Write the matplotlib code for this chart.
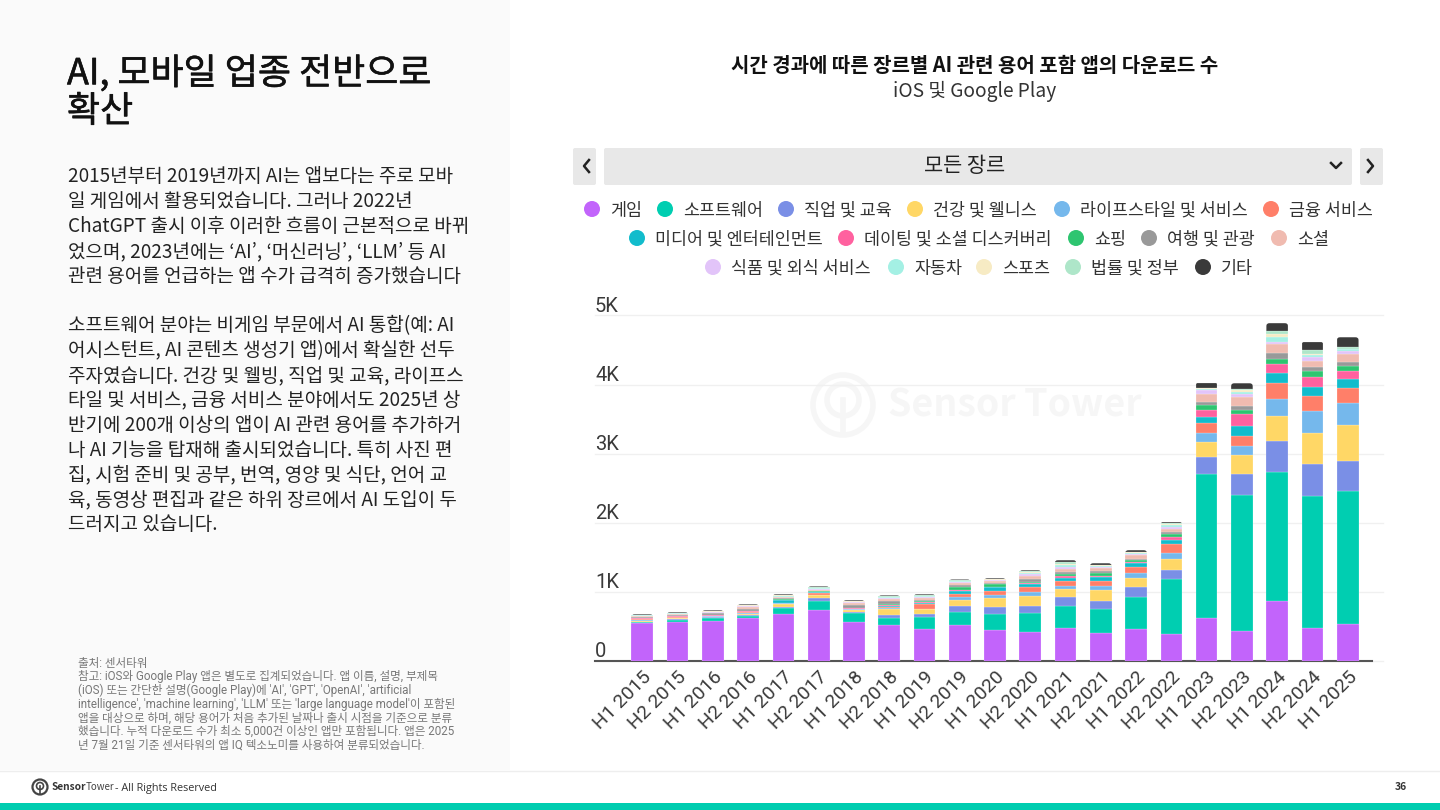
import matplotlib
matplotlib.use("Agg")
import matplotlib.pyplot as plt
import matplotlib.patheffects as pe
from matplotlib.patches import Rectangle, FancyBboxPatch, Circle
import numpy as np

plt.rcParams['font.family'] = ['Noto Sans CJK KR', 'DejaVu Sans']

periods = ["H1 2015", "H2 2015", "H1 2016", "H2 2016", "H1 2017", "H2 2017", "H1 2018",
           "H2 2018", "H1 2019", "H2 2019", "H1 2020", "H2 2020", "H1 2021", "H2 2021",
           "H1 2022", "H2 2022", "H1 2023", "H2 2023", "H1 2024", "H2 2024", "H1 2025"]

game = [550, 565, 580, 623, 686, 744, 570, 520, 469, 527, 450, 420, 483, 410, 456, 386, 623, 440, 870, 483, 540]
software = [8, 30, 45, 30, 80, 125, 125, 105, 164, 188, 226, 270, 314, 340, 465, 807, 2077, 1960, 1870, 1903, 1924]
edu = [8, 8, 5, 12, 12, 45, 15, 45, 43, 85, 107, 110, 126, 124, 148, 131, 257, 305, 450, 464, 436]
health = [20, 15, 6, 8, 50, 35, 35, 85, 73, 84, 130, 147, 117, 150, 131, 149, 207, 271, 356, 445, 515]
life = [8, 10, 8, 25, 10, 8, 6, 10, 8, 36, 44, 53, 50, 66, 70, 83, 131, 134, 251, 325, 315]
finance = [12, 8, 8, 8, 8, 20, 4, 20, 66, 56, 63, 70, 70, 70, 86, 134, 145, 150, 233, 210, 227]
media = [8, 5, 5, 8, 35, 15, 4, 15, 22, 44, 50, 42, 40, 50, 60, 60, 96, 140, 144, 140, 120]
dating = [3, 3, 3, 3, 5, 6, 3, 5, 6, 10, 8, 10, 30, 20, 20, 45, 97, 175, 126, 146, 113]
shopping = [10, 12, 5, 6, 15, 10, 3, 18, 20, 45, 30, 25, 30, 40, 25, 50, 67, 55, 77, 84, 76]
travel = [15, 15, 24, 34, 10, 11, 52, 44, 19, 29, 24, 44, 30, 30, 16, 29, 50, 60, 87, 60, 64]
social = [8, 8, 12, 25, 9, 15, 25, 28, 25, 30, 25, 45, 45, 40, 50, 30, 115, 126, 126, 80, 114]
food = [5, 5, 8, 10, 8, 10, 10, 15, 12, 12, 10, 25, 30, 20, 25, 35, 50, 45, 30, 66, 46]
auto = [5, 5, 6, 8, 16, 10, 6, 10, 10, 8, 8, 15, 25, 15, 10, 25, 18, 35, 66, 20, 20]
sports = [4, 4, 5, 6, 4, 8, 5, 8, 8, 6, 6, 10, 20, 10, 10, 15, 13, 20, 48, 15, 10]
law = [4, 4, 4, 4, 6, 8, 3, 8, 7, 6, 5, 10, 19, 10, 10, 15, 12, 17, 36, 59, 21]
other = [8, 8, 10, 10, 12, 10, 14, 14, 14, 14, 12, 18, 30, 20, 22, 20, 72, 87, 120, 120, 145]

series = [game, software, edu, health, life, finance, media, dating, shopping,
          travel, social, food, auto, sports, law, other]
names = ["게임", "소프트웨어", "직업 및 교육", "건강 및 웰니스", "라이프스타일 및 서비스", "금융 서비스",
         "미디어 및 엔터테인먼트", "데이팅 및 소셜 디스커버리", "쇼핑", "여행 및 관광", "소셜",
         "식품 및 외식 서비스", "자동차", "스포츠", "법률 및 정부", "기타"]
colors = ["#c264fb", "#00ceb1", "#7a8fe6", "#ffd766", "#75b8ec", "#ff7f69", "#12bccc", "#ff619f",
          "#2ec570", "#999999", "#f0bbb0", "#e2c4f9", "#a4f0e4", "#f7ebc4", "#aee6c9", "#3a3a3a"]
ytick_vals = [0, 1000, 2000, 3000, 4000, 5000]
ytick_labels = ["0", "1K", "2K", "3K", "4K", "5K"]

title_lines = ["AI, 모바일 업종 전반으로", "확산"]
para1 = ["2015년부터 2019년까지 AI는 앱보다는 주로 모바",
         "일 게임에서 활용되었습니다. 그러나 2022년",
         "ChatGPT 출시 이후 이러한 흐름이 근본적으로 바뀌",
         "었으며, 2023년에는 ‘AI’, ‘머신러닝’, ‘LLM’ 등 AI",
         "관련 용어를 언급하는 앱 수가 급격히 증가했습니다"]
para2 = ["소프트웨어 분야는 비게임 부문에서 AI 통합(예: AI",
         "어시스턴트, AI 콘텐츠 생성기 앱)에서 확실한 선두",
         "주자였습니다. 건강 및 웰빙, 직업 및 교육, 라이프스",
         "타일 및 서비스, 금융 서비스 분야에서도 2025년 상",
         "반기에 200개 이상의 앱이 AI 관련 용어를 추가하거",
         "나 AI 기능을 탑재해 출시되었습니다. 특히 사진 편",
         "집, 시험 준비 및 공부, 번역, 영양 및 식단, 언어 교",
         "육, 동영상 편집과 같은 하위 장르에서 AI 도입이 두",
         "드러지고 있습니다."]
notes = ["출처: 센서타워",
         "참고: iOS와 Google Play 앱은 별도로 집계되었습니다. 앱 이름, 설명, 부제목",
         "(iOS) 또는 간단한 설명(Google Play)에 'AI', 'GPT', 'OpenAI', 'artificial",
         "intelligence', 'machine learning', 'LLM' 또는 'large language model'이 포함된",
         "앱을 대상으로 하며, 해당 용어가 처음 추가된 날짜나 출시 시점을 기준으로 분류",
         "했습니다. 누적 다운로드 수가 최소 5,000건 이상인 앱만 포함됩니다. 앱은 2025",
         "년 7월 21일 기준 센서타워의 앱 IQ 텍소노미를 사용하여 분류되었습니다."]

fig = plt.figure(figsize=(14.4, 8.1), dpi=100, facecolor="white")

# page layer in pixel coordinates
bg = fig.add_axes([0, 0, 1, 1])
bg.set_xlim(0, 1440)
bg.set_ylim(810, 0)
bg.axis("off")
bg.add_patch(Rectangle((0, 0), 510, 770, color="#fafafa", lw=0))
bg.plot([0, 1440], [770.5, 770.5], color="#eeeeee", lw=1)
bg.add_patch(Rectangle((0, 803), 1440, 7, color="#00cdb0", lw=0))

for i, line in enumerate(title_lines):
    bg.text(67, 74 + i * 38, line, fontsize=25.9, color="#111111", va="center",
            path_effects=[pe.withStroke(linewidth=0.4, foreground="#111111")])
for i, line in enumerate(para1):
    bg.text(68, 177 + i * 24.8, line, fontsize=13.7, color="#222222", va="center")
for i, line in enumerate(para2):
    bg.text(68, 326 + i * 24.8, line, fontsize=13.7, color="#222222", va="center")
for i, line in enumerate(notes):
    bg.text(78, 663 + i * 13.7, line, fontsize=8.35, color="#777777", va="center",
            family=["Roboto", "Noto Sans CJK KR"])

# footer
bg.add_patch(Circle((40, 787), 7.5, fill=False, ec="#444444", lw=1.6))
bg.add_patch(Circle((40, 786), 3.5, fill=False, ec="#444444", lw=1.2))
bg.plot([40, 40], [786, 794], color="#444444", lw=1.2)
bg.text(52, 787, "Sensor", fontsize=7.3, weight="bold", color="#333333", va="center")
bg.text(86, 787, "Tower", fontsize=7.0, color="#444444", va="center")
bg.text(115, 788.5, "- All Rights Reserved", fontsize=7.8, color="#333333", va="center", family="Open Sans")
bg.text(1407, 787, "36", fontsize=7.5, weight="bold", color="#333333", va="center", ha="right")

# chart titles
bg.text(975, 66, "시간 경과에 따른 장르별 AI 관련 용어 포함 앱의 다운로드 수", fontsize=14.4, weight="bold",
        color="#111111", ha="center", va="center")
bg.text(975, 91, "iOS 및 Google Play", fontsize=13.8, color="#333333", ha="center", va="center")

# genre selector
for x0, x1 in [(573, 596), (604, 1352), (1360, 1383)]:
    bg.add_patch(FancyBboxPatch((x0 + 2, 150), x1 - x0 - 4, 33, boxstyle="round,pad=2", color="#e8e8e8", lw=0))
bg.text(965, 166, "모든 장르", fontsize=15, color="#222222", ha="center", va="center")
bg.plot([589, 584, 589], [160, 166, 172], color="#222222", lw=1.8)
bg.plot([1368, 1373, 1368], [160, 166, 172], color="#222222", lw=1.8)
bg.plot([1331, 1336, 1341], [163, 168, 163], color="#222222", lw=1.8)

# legend
legend_pos = [(592, 209), (665, 209), (786, 209), (915, 209), (1062, 209), (1271, 209),
              (637, 238), (846, 238), (1076, 238), (1149, 238), (1279, 238),
              (713, 267), (896, 267), (984, 267), (1073, 267), (1203, 267)]
for (lx, ly), name, c in zip(legend_pos, names, colors):
    bg.add_patch(Circle((lx, ly), 8, color=c, lw=0))
    bg.text(lx + 18, ly + 2, name, fontsize=12.5, color="#333333", va="center")

# watermark
bg.add_patch(Circle((843, 405), 30, fill=False, ec="#f6f6f6", lw=4))
bg.add_patch(Circle((843, 400), 16, fill=False, ec="#f6f6f6", lw=4))
bg.plot([843, 843], [400, 432], color="#f6f6f6", lw=4)
bg.text(888, 405, "Sensor Tower", fontsize=27, weight="bold", color="#f6f6f6", va="center")

# chart, pixel box 595..1383 x 315.5..661
ax = fig.add_axes([595 / 1440, 1 - 661 / 810, 788 / 1440, 345.5 / 810])
ax.patch.set_alpha(0)
ax.set_xlim(-1.341, 21.0)
ax.set_ylim(0, 5000)
x = np.arange(len(periods))
bottom = np.zeros(len(periods))
for vals, name, c in zip(series, names, colors):
    bars = ax.bar(x, vals, 0.615, bottom=bottom, color=c, edgecolor="white", linewidth=0.15, label=name, zorder=3)
    bottom += np.array(vals)

# rounded top on the last stack
for rect in bars:
    clip = FancyBboxPatch((rect.get_x(), rect.get_y() - 300), rect.get_width(), rect.get_height() + 300,
                          boxstyle="round,pad=0,rounding_size=0.09", mutation_aspect=500,
                          transform=ax.transData)
    rect.set_clip_path(clip)

ax.set_yticks(ytick_vals)
ax.set_yticklabels([])
ax.tick_params(axis="y", length=0)
for v, lab in zip(ytick_vals, ytick_labels):
    ax.annotate(lab, (0, v), xycoords=ax.get_yaxis_transform(), xytext=(0, 0), textcoords="offset points",
                family="Roboto", fontsize=14.5, color="#3a3a3a", ha="left", va="bottom",
                annotation_clip=False)
ax.set_xticks(x)
ax.set_xticklabels(periods, family="Roboto", fontsize=14, color="#3a3a3a", rotation=45,
                   ha="right", rotation_mode="anchor")
ax.tick_params(axis="x", length=0, pad=5)
ax.grid(axis="y", color="#f0f0f0", lw=1, zorder=0)
for gl in ax.get_ygridlines():
    gl.set_clip_on(False)
for s in ["top", "right", "left"]:
    ax.spines[s].set_visible(False)
ax.spines["bottom"].set_color("#555555")
ax.spines["bottom"].set_linewidth(1.5)
ax.spines["bottom"].set_bounds(-1.341, 20.7)

fig.savefig("out.png", dpi=100)
